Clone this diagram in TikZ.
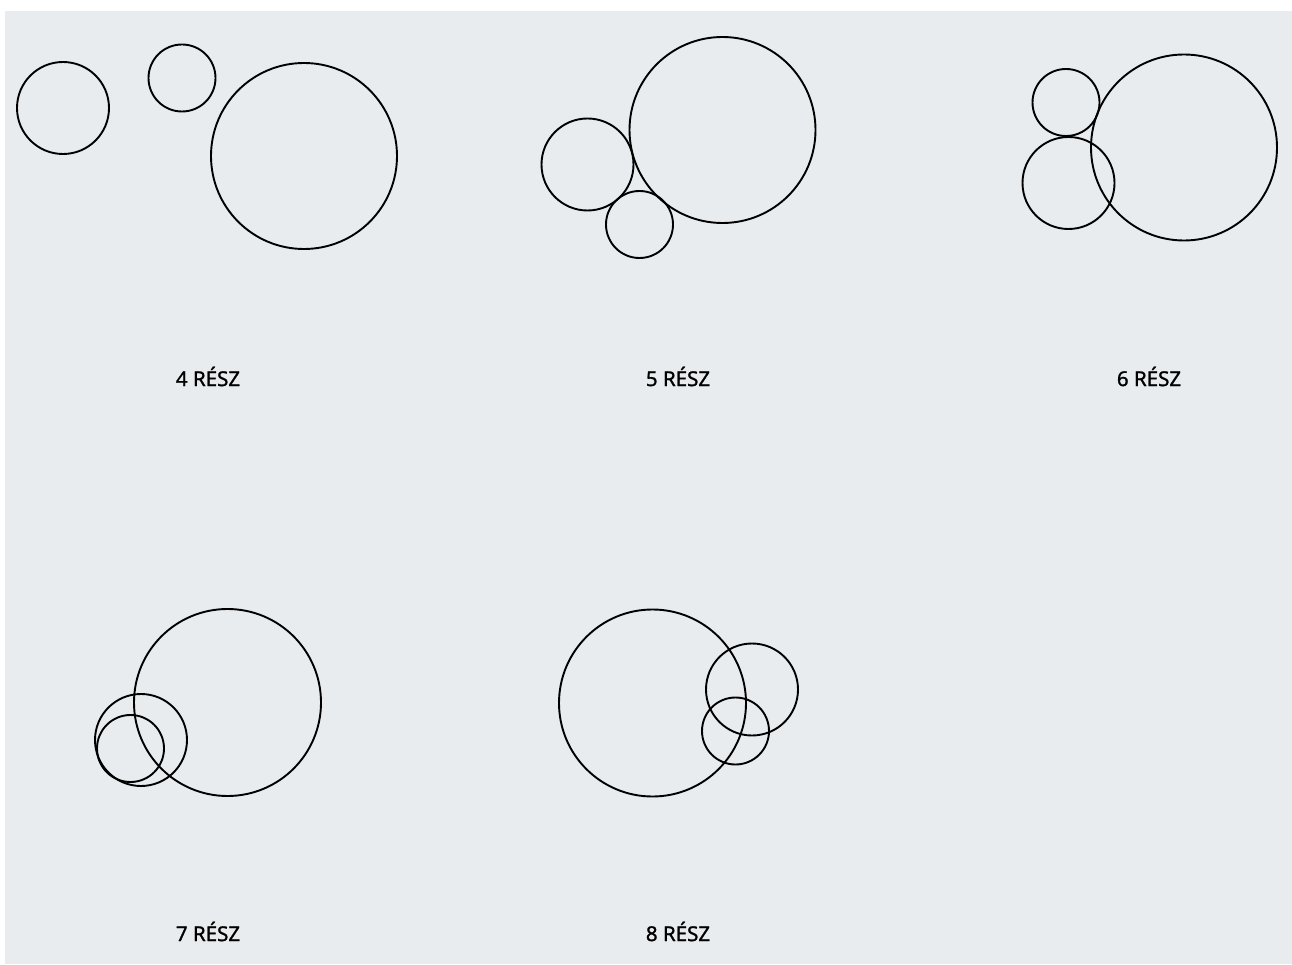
\documentclass[tikz,border=0pt]{standalone}
\usepackage{xcolor}
\usepackage{fontspec}
\setmainfont{Noto Sans}
\newfontfamily\labelfont[FakeBold=1.2]{Noto Sans}
\usepackage{tikz}
\definecolor{panelgray}{HTML}{E8ECEF}
\tikzset{
  ring/.style={line width=1.9pt, draw=black},
  partlabel/.style={font=\labelfont\fontsize{20.5}{24}\selectfont, inner sep=0pt}
}

\begin{document}
\begin{tikzpicture}[x=1pt,y=-1pt]
\useasboundingbox (0,0) rectangle (1292,965);
\fill[panelgray] (5,11) rectangle (1292,964);
% 4 resz
\draw[ring] (63,108) circle (46);
\draw[ring] (182,78) circle (33.5);
\draw[ring] (304,156) circle (93);
\node[partlabel] (label4) at (208,376.5) {4 RÉSZ};
% 5 resz
\draw[ring] (722.5,130) circle (93);
\draw[ring] (587.5,164.5) circle (46);
\draw[ring] (639.5,224.5) circle (33.5);
\node[partlabel] (label5) at (678,376.5) {5 RÉSZ};
% 6 resz
\draw[ring] (1066,102.5) circle (33.5);
\draw[ring] (1068.5,183) circle (46);
\draw[ring] (1184,147.5) circle (93);
\node[partlabel] (label6) at (1149,376.5) {6 RÉSZ};
% 7 resz
\draw[ring] (227.5,702.5) circle (93.5);
\draw[ring] (141,740) circle (46);
\draw[ring] (130.5,748.5) circle (33.5);
\node[partlabel] (label7) at (208,931.5) {7 RÉSZ};
% 8 resz
\draw[ring] (652.5,703) circle (93.5);
\draw[ring] (752,689.5) circle (46);
\draw[ring] (735.5,731) circle (33.5);
\node[partlabel] (label8) at (678,931.5) {8 RÉSZ};
\end{tikzpicture}
\end{document}
